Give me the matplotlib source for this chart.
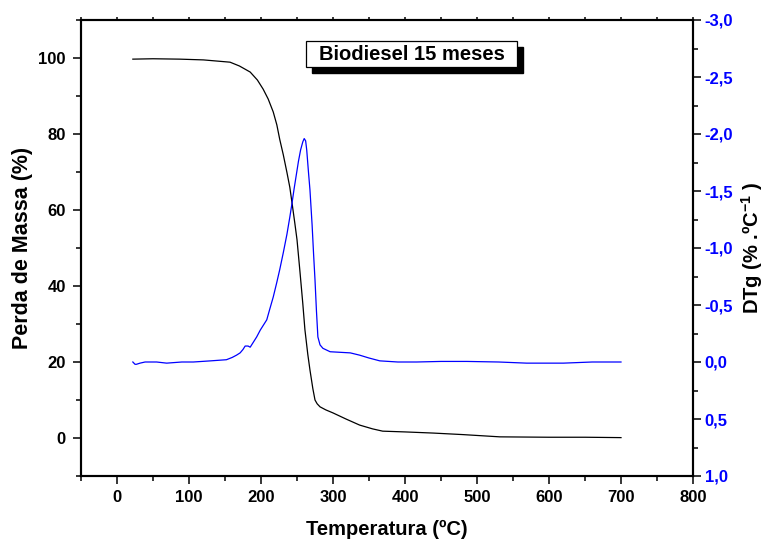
import matplotlib
matplotlib.use("Agg")
import matplotlib.pyplot as plt
from matplotlib.patches import Rectangle
from matplotlib.ticker import MultipleLocator, FuncFormatter

plt.rcParams['font.family'] = ['Liberation Sans', 'DejaVu Sans']
plt.rcParams['font.weight'] = 'bold'
plt.rcParams['mathtext.fontset'] = 'custom'
plt.rcParams['mathtext.rm'] = 'Liberation Sans:bold'
plt.rcParams['mathtext.bf'] = 'Liberation Sans:bold'

# TG curve (mass %)
tg_temp = [22, 50, 87, 120, 157, 170, 185, 195, 203, 210, 217, 222, 226, 231, 236,
           240, 243, 247, 250, 254, 258, 261, 265, 268, 272, 275, 278, 282, 290,
           300, 318, 337, 355, 369, 400, 439, 480, 532, 600, 650, 700]
tg_mass = [99.7, 99.8, 99.7, 99.5, 98.9, 97.9, 96.3, 94.2, 91.8, 89.2, 85.8, 82.4, 78.6,
           74.5, 69.9, 66.0, 62.0, 56.5, 52.2, 44.0, 35.5, 28.5, 22.0, 17.9, 13.0, 10.0,
           9.0, 8.2, 7.4, 6.6, 5.0, 3.4, 2.4, 1.8, 1.6, 1.3, 0.9, 0.3, 0.2, 0.2, 0.1]

# DTg curve (%/ºC)
dtg_temp = [22, 25, 27, 32, 39, 55, 69, 90, 106, 130, 152, 160, 166, 171, 175, 178, 182,
            185, 189, 194, 199, 204, 208, 212, 217, 222, 226, 231, 236, 240, 243, 246,
            249.5, 252, 255, 258, 260, 262, 263.5, 266, 268, 271, 273, 275, 277, 279,
            282, 286, 296, 310, 324, 337, 350, 365, 390, 416, 450, 486, 530, 569, 620,
            660, 700]
dtg_val = [0.0, 0.02, 0.02, 0.01, 0.0, 0.0, 0.01, 0.0, 0.0, -0.01, -0.02, -0.04, -0.06,
           -0.08, -0.11, -0.14, -0.14, -0.13, -0.17, -0.22, -0.28, -0.33, -0.37, -0.46,
           -0.57, -0.70, -0.81, -0.96, -1.12, -1.27, -1.39, -1.52, -1.66, -1.76, -1.86,
           -1.93, -1.96, -1.94, -1.86, -1.66, -1.51, -1.20, -0.95, -0.72, -0.45, -0.22,
           -0.15, -0.12, -0.09, -0.085, -0.08, -0.06, -0.035, -0.01, 0.0, 0.0, -0.005,
           -0.005, 0.0, 0.01, 0.01, 0.0, 0.0]

xticks = [0, 100, 200, 300, 400, 500, 600, 700, 800]
title_text = "Biodiesel 15 meses"

fig = plt.figure(figsize=(7.69, 5.42), dpi=100)
ax = fig.add_axes([81/769, 1-476/542, (693-81)/769, (476-20)/542])
ax2 = ax.twinx()

ax.plot(tg_temp, tg_mass, color='black', lw=0.9, zorder=3)
ax2.plot(dtg_temp, dtg_val, color='#0000ff', lw=0.9, zorder=3)

ax.set_xlim(-50, 800)
ax.set_ylim(-10, 110)
ax2.set_ylim(1.0, -3.0)

ax.set_xticks(xticks)
ax.xaxis.set_minor_locator(MultipleLocator(50))
ax.yaxis.set_minor_locator(MultipleLocator(10))
ax.set_yticks([0, 20, 40, 60, 80, 100])
ax2.yaxis.set_major_locator(MultipleLocator(0.5))
ax2.yaxis.set_minor_locator(MultipleLocator(0.25))
ax2.yaxis.set_major_formatter(FuncFormatter(lambda v, p: f"{v:.1f}".replace('.', ',').replace('-0,0', '0,0')))

for a in (ax, ax2):
    for s in a.spines.values():
        s.set_linewidth(1.5)

ax.tick_params(axis='both', which='major', direction='out', length=6, width=1.1,
               labelsize=12, pad=4)
ax.tick_params(axis='both', which='minor', direction='out', length=3.6, width=1.1)
ax.tick_params(axis='y', which='major', pad=5)
ax2.tick_params(axis='y', which='major', direction='out', length=6, width=1.1,
                labelsize=12, labelcolor='#0000ff', pad=2.5)
ax2.tick_params(axis='y', which='minor', direction='out', length=3.6, width=1.1)
# top ticks: tiny
ax.xaxis.set_tick_params(which='both', top=True)
for t in ax.xaxis.get_major_ticks() + ax.xaxis.get_minor_ticks():
    t.tick2line.set_markersize(2)

for lab in ax.get_xticklabels() + ax.get_yticklabels() + ax2.get_yticklabels():
    lab.set_fontweight('bold')

ax.set_xlabel("Temperatura (ºC)", fontsize=14.5, fontweight='bold', va='center')
ax.xaxis.set_label_coords(0.5, -0.118)
ax.set_ylabel("Perda de Massa (%)", fontsize=15.5, fontweight='bold',
              va='center', ha='center')
ax.yaxis.set_label_coords(-0.095, 0.5)
ax2.set_ylabel(r"DTg (% .ºC$^{\mathbf{-1}}$ )", fontsize=14.5, fontweight='bold',
               rotation=90, va='center', ha='center')
ax2.yaxis.set_label_coords(1.097, 0.5)

# title box with shadow
shadow = Rectangle((312/769, 1-73/542), 211/769, 26/542, transform=fig.transFigure,
                   facecolor='black', edgecolor='black', zorder=10)
box = Rectangle((306/769, 1-67/542), 211/769, 26/542, transform=fig.transFigure,
                facecolor='white', edgecolor='black', lw=0.9, zorder=11)
fig.patches.extend([shadow, box])
fig.text(412/769, 1-54.5/542, title_text, ha='center', va='center', fontsize=14.5,
         fontweight='bold', zorder=12)

fig.savefig("out.png", dpi=100)
